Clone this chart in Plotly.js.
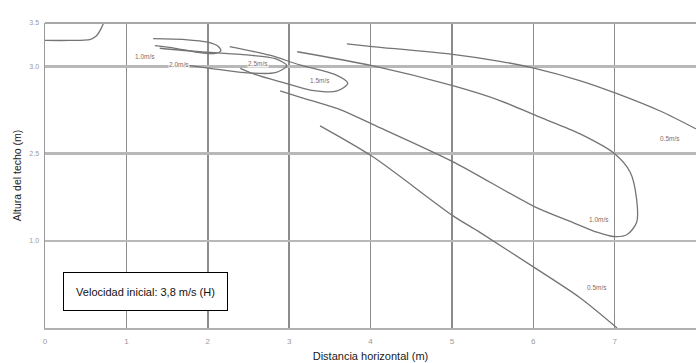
<!DOCTYPE html>
<html>
<head>
<meta charset="utf-8">
<script src="https://cdn.plot.ly/plotly-3.0.1.min.js"></script>
<style>html,body{margin:0;padding:0;background:#fff;}#chart{width:696px;height:363px;}</style>
</head>
<body>
<div id="chart"></div>
<script>
// ---- Data ----
const xTickVals = [0, 1, 2, 3, 4, 5, 6, 7, 8];
const xTickText = ["0", "1", "2", "3", "4", "5", "6", "7", "8"];
const yTickVals = [1, 2, 3, 3.5];
const yTickText = ["1.0", "2.5", "3.0", "3.5"];

// corner curve (top-left)
const cornerX = [0, 0.3, 0.55, 0.63, 0.68, 0.72];
const cornerY = [3.30, 3.30, 3.31, 3.35, 3.42, 3.5];

// smallest loop
const loop1X = [1.33, 1.72, 2.00, 2.13, 2.16, 2.08, 1.90, 1.60, 1.35];
const loop1Y = [3.32, 3.31, 3.28, 3.23, 3.18, 3.15, 3.16, 3.21, 3.24];

// second loop
const loop2X = [1.41, 1.90, 2.40, 2.83, 2.97, 2.83, 2.46, 2.03, 1.72];
const loop2Y = [3.21, 3.17, 3.14, 3.09, 3.01, 2.93, 2.93, 2.98, 3.02];

// third loop
const loop3X = [2.27, 2.76, 3.13, 3.56, 3.72, 3.59, 3.26, 2.95, 2.58, 2.40];
const loop3Y = [3.23, 3.13, 3.02, 2.91, 2.81, 2.72, 2.73, 2.81, 2.91, 2.98];

// 1.0 m/s envelope
const loop10X = [3.10, 4.02, 5.01, 5.59, 6.08, 6.57, 7.00, 7.19, 7.27, 7.27, 7.15, 6.98, 6.78, 6.49, 6.02, 5.01, 4.02, 3.62, 3.13, 2.89];
const loop10Y = [3.17, 3.01, 2.78, 2.61, 2.42, 2.23, 2.00, 1.79, 1.48, 1.21, 1.07, 1.05, 1.10, 1.21, 1.39, 1.91, 2.34, 2.51, 2.65, 2.72];

// 0.5 m/s envelope: upper and lower boundaries
const upper05X = [3.71, 4.02, 5.01, 5.59, 6.02, 6.57, 7.03, 7.56, 8.01];
const upper05Y = [3.26, 3.23, 3.14, 3.06, 2.98, 2.84, 2.69, 2.49, 2.28];
const lower05X = [3.38, 4.02, 5.01, 5.34, 6.02, 6.57, 7.03];
const lower05Y = [2.32, 1.97, 1.29, 1.10, 0.69, 0.35, 0.0];

// curve labels
const labelText = ["1.0m/s", "2.0m/s", "2.5m/s", "1.5m/s", "0.5m/s", "1.0m/s", "0.5m/s"];
const labelX = [1.23, 1.65, 2.62, 3.38, 7.68, 6.81, 6.78];
const labelY = [3.11, 3.02, 3.04, 2.84, 2.17, 1.25, 0.47];

const boxText = "Velocidad inicial: 3,8 m/s (H)";

// ---- Traces ----
const lineStyle = {color: '#747474', width: 1.3, shape: 'spline', smoothing: 0.8};
function tr(x, y) {
  return {x: x, y: y, type: 'scatter', mode: 'lines', line: lineStyle, hoverinfo: 'skip', showlegend: false, cliponaxis: true};
}
const traces = [
  tr(cornerX, cornerY),
  tr(loop1X, loop1Y),
  tr(loop2X, loop2Y),
  tr(loop3X, loop3Y),
  tr(loop10X, loop10Y),
  tr(upper05X, upper05Y),
  tr(lower05X, lower05Y)
];

const annotations = labelText.map((t, i) => ({
  x: labelX[i], y: labelY[i], xref: 'x', yref: 'y', text: t, showarrow: false,
  font: {family: 'Liberation Sans, Arial, sans-serif', size: 6.5, color: '#8a6a60'},
  bgcolor: 'rgba(255,255,255,0.85)', borderpad: 0
}));
annotations.push({
  x: 0.155, y: 0.121, xref: 'paper', yref: 'paper', text: boxText, showarrow: false,
  font: {family: 'Liberation Sans, Arial, sans-serif', size: 11, color: '#111'},
  bgcolor: '#ffffff', bordercolor: '#000000', borderwidth: 1, borderpad: 0,
  width: 163, height: 37, xanchor: 'center', yanchor: 'middle'
});

const layout = {
  width: 696, height: 363,
  margin: {l: 45, r: 0, t: 23, b: 35},
  paper_bgcolor: '#ffffff', plot_bgcolor: '#ffffff',
  showlegend: false,
  font: {family: 'Liberation Sans, Arial, sans-serif'},
  xaxis: {
    range: [0, 8], tickvals: xTickVals, ticktext: xTickText,
    showgrid: true, gridcolor: '#8c8c8c', gridwidth: 1.5,
    zeroline: false, showline: true, linecolor: '#b0b0b0', linewidth: 2,
    ticks: '', tickfont: {size: 8, color: '#9a9a9a'}, ticklabelstandoff: 4,
    title: {text: 'Distancia horizontal (m)', font: {size: 11, color: '#1a1a1a'}, standoff: 8},
    fixedrange: true
  },
  yaxis: {
    range: [0, 3.5], tickvals: yTickVals, ticktext: yTickText,
    showgrid: true, gridcolor: '#b8b8b8', gridwidth: 2.5,
    zeroline: false, showline: true, linecolor: '#9a9a9a', linewidth: 1.5,
    ticks: '', tickfont: {size: 7, color: '#9a9a9a'}, ticklabelstandoff: 3,
    title: {text: 'Altura del techo (m)', font: {size: 10.5, color: '#1a1a1a'}, standoff: 5},
    fixedrange: true
  },
  shapes: [
    {type: 'line', xref: 'paper', yref: 'paper', x0: 0, x1: 1, y0: 1, y1: 1, line: {color: '#a8a8a8', width: 2}}
  ],
  annotations: annotations
};

Plotly.newPlot('chart', traces, layout, {displayModeBar: false, staticPlot: true});
</script>
</body>
</html>
